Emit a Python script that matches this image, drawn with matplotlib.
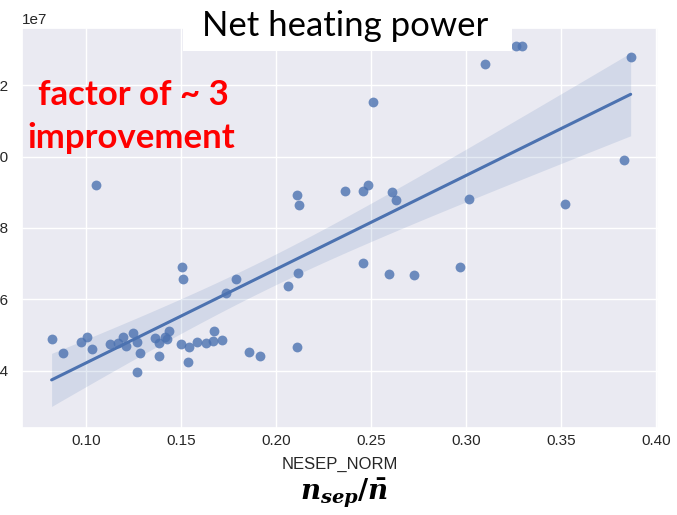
import numpy as np
import matplotlib
matplotlib.use("Agg")
import matplotlib.pyplot as plt
from matplotlib.patches import Rectangle
import seaborn as sns

# Normalised separatrix density and net heating power (units of 1e7 W)
nesep_norm = [
    0.0817, 0.0875, 0.0972, 0.1002, 0.1028, 0.1051, 0.1124, 0.1168, 0.1194,
    0.1209, 0.1244, 0.1265, 0.1282, 0.1268, 0.1361, 0.1384, 0.1414, 0.1435,
    0.1425, 0.1384, 0.1498, 0.1542, 0.1537, 0.1581, 0.1630, 0.1672, 0.1669,
    0.1716, 0.1855, 0.1915, 0.2110, 0.1502, 0.1507, 0.1736, 0.1787, 0.2061,
    0.2116, 0.2111, 0.2122, 0.2364, 0.2456, 0.2484, 0.2456, 0.2510, 0.2596,
    0.2609, 0.2630, 0.2726, 0.2967, 0.3014, 0.3100, 0.3263, 0.3297, 0.3522,
    0.3832, 0.3868,
]
net_power_1e7 = [
    0.490, 0.450, 0.480, 0.495, 0.461, 0.920, 0.474, 0.477, 0.495,
    0.469, 0.505, 0.480, 0.450, 0.396, 0.491, 0.477, 0.495, 0.511,
    0.488, 0.441, 0.474, 0.467, 0.425, 0.481, 0.478, 0.511, 0.484,
    0.486, 0.453, 0.441, 0.466, 0.691, 0.657, 0.617, 0.656, 0.637,
    0.675, 0.891, 0.864, 0.903, 0.903, 0.920, 0.703, 1.153, 0.672,
    0.900, 0.878, 0.668, 0.690, 0.882, 1.259, 1.310, 1.310, 0.867,
    0.990, 1.280,
]

W, H = 677, 515

sns.set_theme(style="darkgrid")
plt.rcParams["font.family"] = ["Liberation Sans", "DejaVu Sans"]
plt.rcParams["mathtext.fontset"] = "custom"
plt.rcParams["mathtext.it"] = "DejaVu Serif:italic:bold"
plt.rcParams["mathtext.rm"] = "DejaVu Serif:bold"
plt.rcParams["mathtext.bf"] = "DejaVu Serif:bold"

x = np.asarray(nesep_norm)
y = np.asarray(net_power_1e7) * 1e7

fig = plt.figure(figsize=(W / 100, H / 100), dpi=100)
ax = fig.add_axes([22 / W, 1 - 428 / H, 636 / W, 400 / H])

color = sns.color_palette("deep")[0]
ax.scatter(x, y, s=50, color=color, alpha=0.8, linewidths=0, zorder=3)

# Least-squares fit with an analytic 95% confidence band
n = len(x)
slope, intercept = np.polyfit(x, y, 1)
grid = np.linspace(x.min(), x.max(), 100)
fit = slope * grid + intercept
resid = y - (slope * x + intercept)
s_err = np.sqrt(np.sum(resid ** 2) / (n - 2))
sxx = np.sum((x - x.mean()) ** 2)
half = 2.1 * s_err * np.sqrt(1 / n + (grid - x.mean()) ** 2 / sxx)
ax.fill_between(grid, fit - half, fit + half, color=color, alpha=0.15,
                linewidth=0, zorder=2)
ax.plot(grid, fit, color=color, lw=2.2, zorder=4)

ax.set_xlim(0.0661, 0.4012)
ax.set_ylim(0.2395e7, 1.360e7)
ax.set_xticks([0.10, 0.15, 0.20, 0.25, 0.30, 0.35, 0.40])
ax.set_yticks([0.4e7, 0.6e7, 0.8e7, 1.0e7, 1.2e7])
ax.tick_params(axis="x", length=0, pad=4)
ax.set_xlabel("NESEP_NORM", labelpad=7)

# Title panel
fig.patches.append(Rectangle((183 / W, 1 - 51 / H), 329 / W, 51 / H,
                             transform=fig.transFigure, facecolor="white",
                             edgecolor="none", zorder=10))
fig.text(345 / W, 1 - 36 / H, "Net heating power", family="Lato",
         fontsize=25, color="black", ha="center", va="baseline", zorder=11)

# Annotation
red = "#FF0000"
fig.text(38 / W, 1 - 105 / H, "factor of ~ 3", family="Lato",
         fontweight="bold", fontsize=25, color=red, ha="left",
         va="baseline", zorder=11)
fig.text(27 / W, 1 - 148 / H, "improvement", family="Lato",
         fontweight="bold", fontsize=25, color=red, ha="left",
         va="baseline", zorder=11)

fig.text(344 / W, 1 - 499 / H, r"$n_{sep}/\bar{n}$", fontsize=20,
         color="black", ha="center", va="baseline", zorder=11)

fig.savefig("out.png", dpi=100)
